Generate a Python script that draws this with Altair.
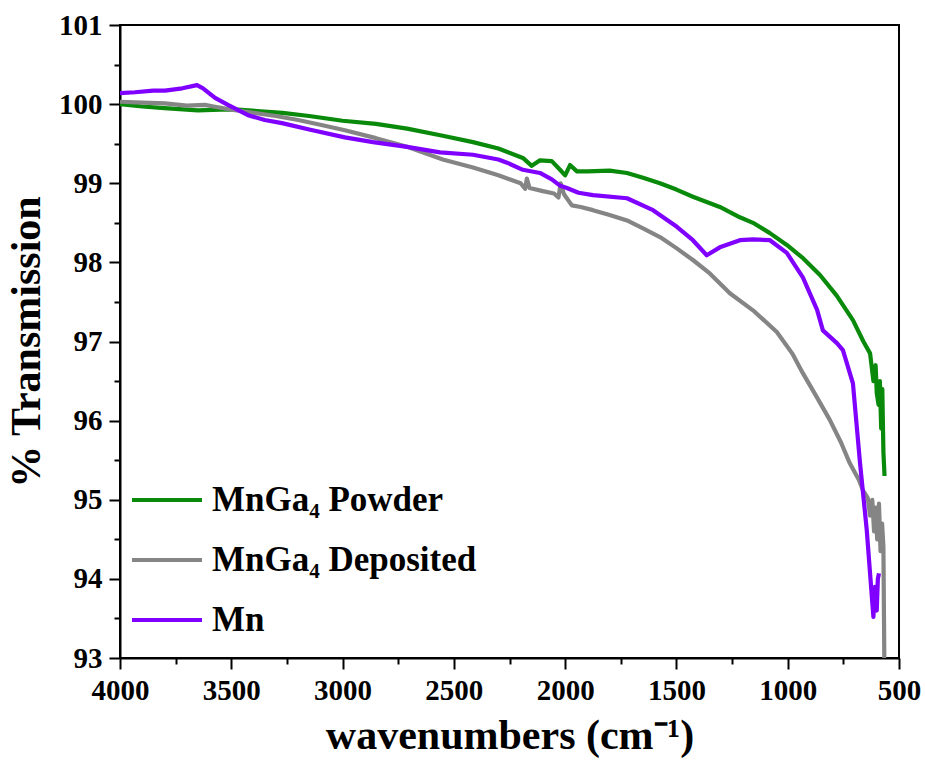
import altair as alt
import pandas as pd

# FTIR transmission spectra, wavenumber (cm^-1) vs % transmission
powder_wn = [4000, 3900, 3800, 3650, 3550, 3470, 3270, 3150, 3000, 2850, 2710, 2550,
             2414, 2300, 2190, 2150, 2113, 2060, 2023, 2000, 1978, 1947, 1900, 1800,
             1722, 1650, 1574, 1500, 1426, 1305, 1215, 1156, 1080, 1004, 930, 855,
             780, 707, 660, 630, 615, 605, 600, 592, 586, 580, 575, 570, 565]
powder_t = [100.0, 99.97, 99.95, 99.92, 99.93, 99.93, 99.89, 99.85, 99.79, 99.75, 99.69, 99.60,
            99.52, 99.44, 99.32, 99.22, 99.29, 99.28, 99.17, 99.10, 99.23, 99.15, 99.15, 99.16,
            99.13, 99.07, 99.0, 98.92, 98.83, 98.70, 98.57, 98.50, 98.37, 98.22, 98.05, 97.84,
            97.58, 97.27, 97.0, 96.85, 96.5, 96.7, 96.35, 96.2, 96.5, 95.9, 96.4, 95.6, 95.3]

deposited_wn = [4000, 3900, 3798, 3700, 3618, 3580, 3500, 3425, 3300, 3200, 3100, 2990,
                2850, 2710, 2550, 2414, 2300, 2200, 2180, 2172, 2160, 2100, 2050, 2030,
                2020, 2005, 1970, 1930, 1875, 1800, 1722, 1650, 1574, 1500, 1426, 1350,
                1260, 1150, 1049, 980, 932, 870, 811, 760, 721, 680, 662, 640, 630, 620,
                612, 605, 598, 590, 583, 576, 570, 566]
deposited_t = [100.03, 100.02, 100.01, 99.98, 99.99, 99.97, 99.93, 99.90, 99.85, 99.80, 99.74, 99.67,
               99.57, 99.46, 99.30, 99.20, 99.10, 99.0, 98.93, 99.06, 98.94, 98.90, 98.87, 98.82,
               99.0, 98.86, 98.72, 98.70, 98.66, 98.60, 98.53, 98.43, 98.32, 98.18, 98.03, 97.86,
               97.61, 97.38, 97.12, 96.85, 96.60, 96.30, 96.01, 95.72, 95.46, 95.25, 95.12, 95.02, 94.80, 95.0,
               94.6, 94.9, 94.5, 94.95, 94.35, 94.7, 94.4, 93.0]

mn_wn = [4000, 3933, 3850, 3798, 3720, 3654, 3627, 3573, 3515, 3425, 3350, 3272,
         3150, 2990, 2863, 2710, 2562, 2414, 2300, 2261, 2190, 2113, 2060, 2023,
         1992, 1940, 1875, 1722, 1605, 1498, 1426, 1364, 1305, 1215, 1156, 1080,
         1004, 932, 868, 842, 779, 752, 707, 675, 645, 630, 620, 615, 608, 600, 595, 590]
mn_t = [100.14, 100.15, 100.17, 100.17, 100.20, 100.24, 100.20, 100.08, 99.99, 99.86, 99.80, 99.76,
        99.68, 99.58, 99.52, 99.46, 99.39, 99.36, 99.30, 99.26, 99.17, 99.13, 99.05, 98.97,
        98.94, 98.88, 98.85, 98.81, 98.66, 98.45, 98.28, 98.09, 98.19, 98.28, 98.29, 98.28,
        98.12, 97.81, 97.40, 97.14, 96.98, 96.89, 96.47, 95.46, 94.62, 94.07, 93.7, 93.52, 93.9, 93.6, 94.0, 94.07]

series_names = ["MnGa\u2084 Powder", "MnGa\u2084 Deposited", "Mn"]
series_colors = ["#0a8a0a", "#858585", "#8000ff"]

frames = []
for name, wn, t in [(series_names[0], powder_wn, powder_t),
                    (series_names[1], deposited_wn, deposited_t),
                    (series_names[2], mn_wn, mn_t)]:
    frames.append(pd.DataFrame({"wn": wn, "T": t, "sample": name, "order": range(len(wn))}))
data = pd.concat(frames, ignore_index=True)

FONT = "Liberation Serif"

x_ticks = [500 + 250 * i for i in range(15)]
y_ticks = [93 + 0.5 * i for i in range(17)]

chart = alt.Chart(data).mark_line(strokeWidth=4.2, strokeJoin="round").encode(
    x=alt.X("wn:Q",
            scale=alt.Scale(domain=[500, 4000], reverse=True, nice=False, zero=False),
            axis=alt.Axis(values=x_ticks, format="d",
                          labelExpr="datum.value % 500 === 0 ? datum.label : ''",
                          tickSize={"condition": {"test": "datum.value % 500 !== 0", "value": 6}, "value": 11},
                          title="wavenumbers (cm\u207b\u00b9)",
                          titlePadding=10, labelPadding=7, labelFlush=False)),
    y=alt.Y("T:Q",
            scale=alt.Scale(domain=[93, 101], nice=False, zero=False),
            axis=alt.Axis(values=y_ticks, format=".0f",
                          labelExpr="datum.value % 1 === 0 ? datum.label : ''",
                          tickSize={"condition": {"test": "datum.value % 1 !== 0", "value": 6}, "value": 11},
                          title="% Transmission",
                          titlePadding=10, labelPadding=7)),
    color=alt.Color("sample:N",
                    scale=alt.Scale(domain=series_names, range=series_colors),
                    sort=series_names,
                    legend=alt.Legend(title=None, orient="none", legendX=10, legendY=455,
                                      symbolType="stroke", symbolSize=4900, symbolStrokeWidth=4,
                                      labelFont=FONT, labelFontSize=35, labelFontWeight="bold",
                                      labelColor="black", labelOffset=8, labelLimit=400,
                                      clipHeight=40, rowPadding=20)),
    order="order:Q",
).properties(
    width=779, height=633,
    padding={"left": 120, "top": 25, "right": 26, "bottom": 113},
    autosize="none",
    background="white",
).configure_view(
    stroke="black", strokeWidth=2
).configure_axis(
    domainColor="black", domainWidth=2, tickColor="black", tickWidth=2,
    labelFont=FONT, labelFontSize=29, labelFontWeight="bold", labelColor="black",
    titleFont=FONT, titleFontSize=42, titleFontWeight="bold", titleColor="black",
    grid=False,
)

chart.save("out.html", embed_options={"renderer": "svg", "actions": False})
